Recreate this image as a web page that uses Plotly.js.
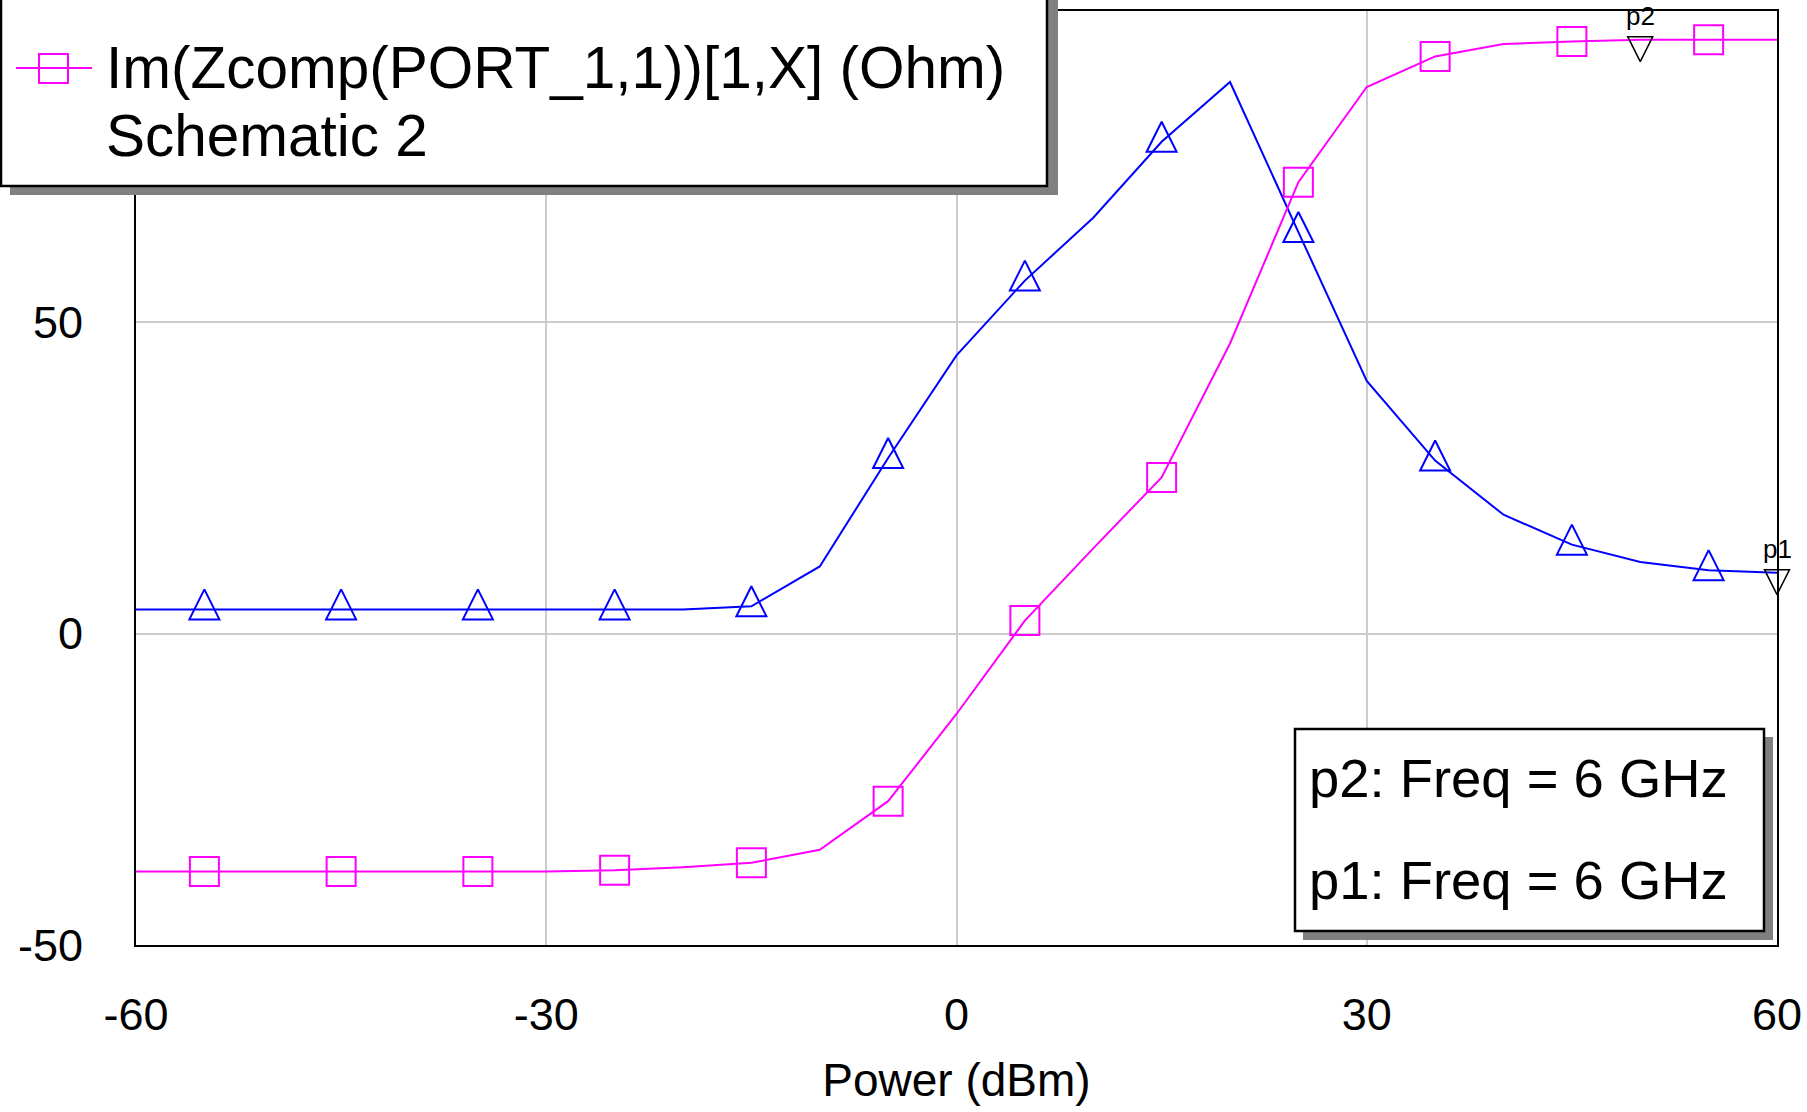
<!DOCTYPE html>
<html>
<head>
<meta charset="utf-8">
<script src="https://cdn.plot.ly/plotly-3.0.1.min.js"></script>
<style>
html,body{margin:0;padding:0;background:#ffffff;}
#chart{width:1807px;height:1112px;}
</style>
</head>
<body>
<div id="chart"></div>
<script>
// ---------------- data ----------------
const powerDbm = [-60,-55,-50,-45,-40,-35,-30,-25,-20,-15,-10,-5,0,5,10,15,20,25,30,35,40,45,50,55,60];
const reZcomp  = [3.9,3.9,3.9,3.9,3.9,3.9,3.9,3.9,3.9,4.4,10.8,28.2,44.7,56.7,66.8,79.0,88.6,64.5,40.6,27.8,19.1,14.3,11.5,10.2,9.8];
const imZcomp  = [-38.2,-38.2,-38.2,-38.2,-38.2,-38.2,-38.2,-38.0,-37.5,-36.8,-34.7,-26.9,-12.9,2.1,13.7,25.1,46.6,72.5,87.8,92.7,94.7,95.1,95.4,95.4,95.4];
const xTicks = [-60,-30,0,30,60];
const yTicks = [-50,0,50];
const xTitle = 'Power (dBm)';
const legendLines = ['Im(Zcomp(PORT_1,1))[1,X] (Ohm)', 'Schematic 2'];
const markerNames  = ['p2','p1'];
const markerPower  = [50, 60];
const markerSeries = ['im','re'];
const markerFreqGHz = [6, 6];

// ---------------- geometry helpers ----------------
const W = 1807, H = 1112;
const M = {l:136, r:30, t:11, b:167};
const PW = W - M.l - M.r, PH = H - M.t - M.b;
const px = v => (v - M.l) / PW;          // pixel -> paper x
const py = v => (H - M.b - v) / PH;       // pixel -> paper y
const FONT = 'Liberation Sans, Arial, sans-serif';

const BLUE = '#0000ff', MAG = '#ff00ff';
const seriesY = {re: reZcomp, im: imZcomp};
const onMarker = (_, i) => i % 2 === 1;

const traces = [
  {x: powerDbm, y: reZcomp, mode:'lines', line:{color:BLUE, width:2}, showlegend:false},
  {x: powerDbm.filter(onMarker), y: reZcomp.filter(onMarker), mode:'markers',
   marker:{symbol:'arrow-down-open', angle:180, standoff:20, size:30, color:BLUE, line:{color:BLUE, width:2}},
   showlegend:false},
  {x: powerDbm, y: imZcomp, mode:'lines', line:{color:MAG, width:2}, showlegend:false},
  {x: powerDbm.filter(onMarker), y: imZcomp.filter(onMarker), mode:'markers',
   marker:{symbol:'square-open', size:29, color:MAG, line:{color:MAG, width:2}},
   showlegend:false},
  {x: markerPower,
   y: markerPower.map((p, k) => seriesY[markerSeries[k]][powerDbm.indexOf(p)]),
   mode:'markers', cliponaxis:false,
   marker:{symbol:'arrow-down-open', size:25, standoff:22, color:'#000000', line:{color:'#000000', width:1.5}},
   showlegend:false}
];

const shapes = [
  // legend box (top-left) with shadow
  {type:'rect', xref:'paper', yref:'paper', x0:px(10), x1:px(1058), y0:py(-40), y1:py(195), fillcolor:'#808080', line:{width:0}, layer:'above'},
  {type:'rect', xref:'paper', yref:'paper', x0:px(1), x1:px(1047), y0:py(-40), y1:py(186), fillcolor:'#ffffff', line:{color:'#000000', width:2.5}, layer:'above'},
  {type:'line', xref:'paper', yref:'paper', x0:px(16), x1:px(92), y0:py(68), y1:py(68), line:{color:MAG, width:2}, layer:'above'},
  {type:'rect', xref:'paper', yref:'paper', x0:px(39), x1:px(68), y0:py(54), y1:py(83), line:{color:MAG, width:2}, layer:'above'},
  // marker readout box (bottom-right) with shadow
  {type:'rect', xref:'paper', yref:'paper', x0:px(1303), x1:px(1773), y0:py(737), y1:py(940), fillcolor:'#808080', line:{width:0}, layer:'above'},
  {type:'rect', xref:'paper', yref:'paper', x0:px(1295), x1:px(1764), y0:py(729), y1:py(931), fillcolor:'#ffffff', line:{color:'#000000', width:2.5}, layer:'above'}
];

const annotations = [];
// legend text
annotations.push({xref:'paper', yref:'paper', x:px(105), y:py(67.6), xanchor:'left', yanchor:'middle', showarrow:false,
  text:legendLines[0], font:{family:FONT, size:58.5, color:'#000000'}, borderpad:0});
annotations.push({xref:'paper', yref:'paper', x:px(105), y:py(135.2), xanchor:'left', yanchor:'middle', showarrow:false,
  text:legendLines[1], font:{family:FONT, size:58.5, color:'#000000'}, borderpad:0});
// marker readout text
const readY = [778.3, 880.6];
markerNames.forEach((n, k) => {
  annotations.push({xref:'paper', yref:'paper', x:px(1308), y:py(readY[k]), xanchor:'left', yanchor:'middle', showarrow:false,
    text: n + ': Freq = ' + markerFreqGHz[k] + ' GHz', font:{family:FONT, size:54.4, color:'#000000'}, borderpad:0});
});
// marker labels above the marker triangles
markerNames.forEach((n, k) => {
  annotations.push({xref:'x', yref:'y', x:markerPower[k], y:seriesY[markerSeries[k]][powerDbm.indexOf(markerPower[k])],
    xanchor:'center', yanchor:'bottom', yshift:8, showarrow:false, text:n,
    font:{family:FONT, size:26, color:'#000000'}, borderpad:0});
});

const axisCommon = {
  showgrid:true, gridcolor:'#cccccc', gridwidth:2,
  showline:true, mirror:true, linecolor:'#000000', linewidth:2,
  zeroline:false, ticks:'', automargin:false, fixedrange:true,
  tickfont:{family:FONT, size:45, color:'#000000'}
};

const layout = {
  width:W, height:H,
  margin:M,
  paper_bgcolor:'#ffffff', plot_bgcolor:'#ffffff',
  showlegend:false,
  font:{family:FONT, color:'#000000'},
  xaxis: Object.assign({}, axisCommon, {
    range:[-60,60], tickmode:'array', tickvals:xTicks, ticktext:xTicks.map(String),
    ticklabelstandoff:29,
    title:{text:xTitle, font:{family:FONT, size:46, color:'#000000'}, standoff:25}
  }),
  yaxis: Object.assign({}, axisCommon, {
    range:[-50,100], tickmode:'array', tickvals:yTicks, ticktext:yTicks.map(String),
    ticklabelstandoff:42
  }),
  shapes: shapes,
  annotations: annotations
};

Plotly.newPlot('chart', traces, layout, {displayModeBar:false, staticPlot:true});
</script>
</body>
</html>
